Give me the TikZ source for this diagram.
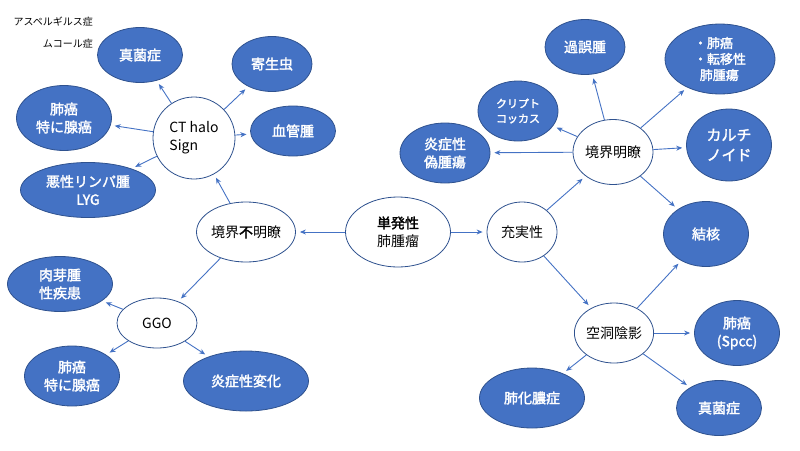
\documentclass[tikz,border=0pt]{standalone}
\usepackage{fontspec}
\setmainfont{Noto Sans CJK JP}[AutoFakeBold=2]
\usetikzlibrary{shapes.geometric,arrows.meta}
\definecolor{bf}{HTML}{4472C4}
\definecolor{bd}{HTML}{2F528F}
\begin{document}
\begin{tikzpicture}[x=1pt,y=-1pt,
 e/.style={ellipse,draw=bd,line width=0.8pt,inner sep=0pt,align=center,font=\fontsize{14}{18}\selectfont},
 b/.style={e,fill=bf,text=white,font=\fontsize{14}{18}\selectfont\bfseries},
 w/.style={e,fill=white,text=black},
 ar/.style={draw=bf,line width=0.9pt,-{Stealth[length=6pt,width=5pt]},shorten >=4pt}]
\useasboundingbox (0,0) rectangle (800,450);
\node[b,minimum width=85,minimum height=55] (sk1) at (140,55) {真菌症};
\node[b,minimum width=80,minimum height=55] (kis) at (272,64) {寄生虫};
\node[b,minimum width=95,minimum height=65] (hg1) at (64,118) {肺癌\\特に腺癌};
\node[w,minimum width=82,minimum height=82,align=left] (ct) at (194,138) {CT halo\\Sign};
\node[b,minimum width=85,minimum height=50] (kk) at (293,131) {血管腫};
\node[b,minimum width=135,minimum height=55] (ak) at (88,190) {悪性リンパ腫\\LYG};
\node[w,minimum width=80,minimum height=60] (fm) at (246,232) {境界\textbf{不}明瞭};
\node[w,minimum width=105,minimum height=70] (tan) at (398,232) {\textbf{単発性}\\肺腫瘤};
\node[w,minimum width=70,minimum height=60] (jj) at (522,232) {充実性};
\node[b,minimum width=105,minimum height=55] (nk) at (60,284) {肉芽腫\\性疾患};
\node[w,minimum width=80,minimum height=50] (ggo) at (157,323) {GGO};
\node[b,minimum width=95,minimum height=60] (hg2) at (72,376) {肺癌\\特に腺癌};
\node[b,minimum width=125,minimum height=60] (en) at (246,381) {炎症性変化};
\node[b,minimum width=80,minimum height=55] (kg) at (585,47) {過誤腫};
\node[b,minimum width=110,minimum height=70,align=left,font=\fontsize{13}{16}\selectfont\bfseries] (hl) at (720,59) {・肺癌\\・転移性\\\ \ 肺腫瘍};
\node[b,minimum width=80,minimum height=60,font=\fontsize{11}{15}\selectfont\bfseries] (cr) at (518,111) {クリプト\\コッカス};
\node[b,minimum width=90,minimum height=60] (eg) at (445,153) {炎症性\\偽腫瘍};
\node[w,minimum width=80,minimum height=65] (km) at (613,152) {境界明瞭};
\node[b,minimum width=85,minimum height=72,font=\fontsize{15}{20}\selectfont\bfseries] (ca) at (729,145) {カルチ\\ノイド};
\node[b,minimum width=85,minimum height=65] (kt) at (706,234) {結核};
\node[w,minimum width=75,minimum height=60] (kd) at (614,333) {空洞陰影};
\node[b,minimum width=85,minimum height=65] (sp) at (737,333) {肺癌\\(Spcc)};
\node[b,minimum width=105,minimum height=60] (hk) at (532,398) {肺化膿症};
\node[b,minimum width=85,minimum height=55] (sk2) at (719,408) {真菌症};
\node[anchor=east,inner sep=0pt,font=\fontsize{10}{12}\selectfont] (asp) at (93,22) {アスペルギルス症};
\node[anchor=east,inner sep=0pt,font=\fontsize{10}{12}\selectfont] (muc) at (93,44) {ムコール症};
\draw[ar] (tan) -- (fm);
\draw[ar] (tan) -- (jj);
\draw[ar] (fm) -- (ct);
\draw[ar] (fm) -- (ggo);
\foreach \t in {sk1,kis,kk,hg1,ak} \draw[ar] (ct) -- (\t);
\foreach \t in {nk,hg2,en} \draw[ar] (ggo) -- (\t);
\draw[ar] (jj) -- (km);
\draw[ar] (jj) -- (kd);
\foreach \t in {kg,hl,cr,eg,ca,kt} \draw[ar] (km) -- (\t);
\foreach \t in {kt,sp,hk,sk2} \draw[ar] (kd) -- (\t);
\end{tikzpicture}
\end{document}
